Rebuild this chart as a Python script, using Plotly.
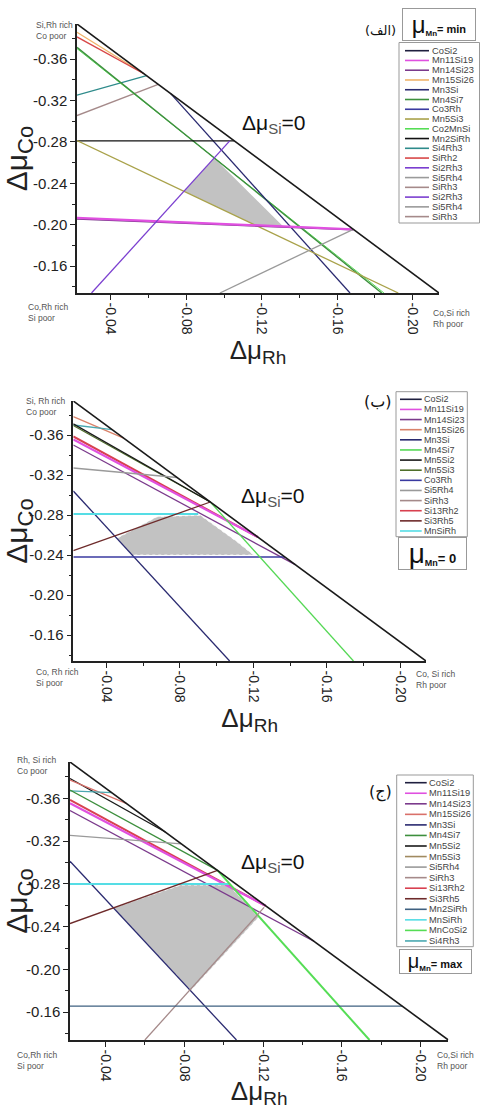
import plotly.graph_objects as go

W, H = 480, 1109
FONT = "Liberation Sans"

# ---------------------------------------------------------------- axes
X_RANGE = [-0.022, -0.214]
Y_RANGE = [-0.134, -0.394]
X_TICKS = [-0.04, -0.08, -0.12, -0.16, -0.20]
X_TICK_TEXT = ["-0.04", "-0.08", "-0.12", "-0.16", "-0.20"]
Y_TICKS = [-0.36, -0.32, -0.28, -0.24, -0.20, -0.16]
Y_TICK_TEXT = ["-0.36", "-0.32", "-0.28", "-0.24", "-0.20", "-0.16"]

# outer limit of the triangle (Δμ_Si = 0)
EDGE_X = [-0.022, -0.214]
EDGE_Y = [-0.394, -0.134]

# ---------------------------------------------------------------- (الف)  μMn = min
A_NAMES = ["Mn15Si26", "SiRh2", "Si4Rh3", "SiRh3", "Co2MnSi", "Mn4Si7", "Mn3Si",
           "Mn2SiRh", "Mn5Si3", "Mn14Si23", "Mn11Si19", "Si2Rh3", "Si5Rh4"]
A_X0 = [-0.022, -0.022, -0.022, -0.022, -0.022, -0.022, -0.0717,
        -0.022, -0.022, -0.022, -0.022, -0.0297, -0.0978]
A_Y0 = [-0.386, -0.3815, -0.3253, -0.3055, -0.3702, -0.3714, -0.3267,
        -0.281, -0.2814, -0.2055, -0.2067, -0.134, -0.134]
A_X1 = [-0.0575, -0.0575, -0.0589, -0.0651, -0.1848, -0.1836, -0.1668,
        -0.1054, -0.1924, -0.1685, -0.1685, -0.103, -0.1685]
A_Y1 = [-0.3459, -0.3459, -0.344, -0.3356, -0.134, -0.134, -0.134,
        -0.281, -0.134, -0.1950, -0.1955, -0.281, -0.1955]
A_REGION_X = [-0.0948, -0.0787, -0.1167, -0.1314]
A_REGION_Y = [-0.2645, -0.2323, -0.1995, -0.1983]
A_LEGEND = ["CoSi2", "Mn11Si19", "Mn14Si23", "Mn15Si26", "Mn3Si", "Mn4Si7", "Co3Rh",
            "Mn5Si3", "Co2MnSi", "Mn2SiRh", "Si4Rh3", "SiRh2", "Si2Rh3", "Si5Rh4",
            "SiRh3", "Si2Rh3", "Si5Rh4", "SiRh3"]

# ---------------------------------------------------------------- (ب)  μMn = 0
B_NAMES = ["Mn15Si26", "Si4Rh3", "Mn5Si3", "Mn5Si2", "Si13Rh2", "Mn11Si19", "Mn14Si23",
           "Si5Rh4", "Mn3Si", "Co3Rh", "MnSiRh", "Si3Rh5", "Mn4Si7"]
B_X0 = [-0.022, -0.022, -0.022, -0.022, -0.022, -0.022, -0.022,
        -0.022, -0.022, -0.022, -0.022, -0.022, -0.0966]
B_Y0 = [-0.3783, -0.370, -0.3695, -0.3712, -0.3585, -0.3555, -0.350,
        -0.327, -0.304, -0.238, -0.281, -0.2443, -0.293]
B_X1 = [-0.0494, -0.0431, -0.0966, -0.0966, -0.1225, -0.1225, -0.1428,
        -0.0785, -0.1071, -0.1372, -0.090, -0.0966, -0.1745]
B_Y1 = [-0.3569, -0.3654, -0.293, -0.293, -0.2579, -0.2579, -0.2304,
        -0.3175, -0.134, -0.238, -0.281, -0.293, -0.134]
B_REGION_X = [-0.0541, -0.0458, -0.0676, -0.0911, -0.1111, -0.1201]
B_REGION_Y = [-0.240, -0.2567, -0.2783, -0.2797, -0.2533, -0.240]
B_LEGEND = ["CoSi2", "Mn11Si19", "Mn14Si23", "Mn15Si26", "Mn3Si", "Mn4Si7", "Mn5Si2",
            "Mn5Si3", "Co3Rh", "Si5Rh4", "SiRh3", "Si13Rh2", "Si3Rh5", "MnSiRh"]

# ---------------------------------------------------------------- (ج)  μMn = max
C_NAMES = ["Mn5Si2", "Mn15Si26", "Si4Rh3", "Mn4Si7", "Si13Rh2", "Mn11Si19", "Mn14Si23",
           "Si5Rh4", "Mn3Si", "MnSiRh", "Si3Rh5", "MnCoSi2", "SiRh3", "Mn2SiRh"]
C_X0 = [-0.022, -0.022, -0.022, -0.022, -0.022, -0.022, -0.022,
        -0.022, -0.022, -0.022, -0.022, -0.0969, -0.060, -0.022]
C_Y0 = [-0.3786, -0.3771, -0.367, -0.3678, -0.3585, -0.3554, -0.3486,
        -0.3253, -0.3012, -0.280, -0.2429, -0.2926, -0.134, -0.1656]
C_X1 = [-0.0704, -0.0508, -0.0432, -0.0969, -0.1213, -0.1213, -0.146,
        -0.0785, -0.1065, -0.103, -0.0969, -0.174, -0.1205, -0.1907]
C_Y1 = [-0.3285, -0.355, -0.3653, -0.2926, -0.2595, -0.2595, -0.2261,
        -0.3175, -0.134, -0.280, -0.2926, -0.134, -0.258, -0.1656]
C_REGION_X = [-0.0442, -0.0782, -0.1026, -0.1116, -0.1177, -0.0833]
C_REGION_Y = [-0.2575, -0.2789, -0.2789, -0.2612, -0.2489, -0.1804]
C_LEGEND = ["CoSi2", "Mn11Si19", "Mn14Si23", "Mn15Si26", "Mn3Si", "Mn4Si7", "Mn5Si2",
            "Mn5Si3", "Si5Rh4", "SiRh3", "Si13Rh2", "Si3Rh5", "Mn2SiRh", "MnSiRh",
            "MnCoSi2", "Si4Rh3"]

# ---------------------------------------------------------------- styles
BASE_COLORS = {
    "CoSi2": "#1f1f3f", "Mn11Si19": "#e050e0", "Mn14Si23": "#7b3a8c",
    "Mn15Si26": "#f0b46a", "Mn3Si": "#2a2a70", "Mn4Si7": "#3d8f3d",
    "Co3Rh": "#3a3aa0", "Mn5Si3": "#a9a24a", "Co2MnSi": "#55dd55",
    "Mn2SiRh": "#111111", "Si4Rh3": "#2e8b8b", "SiRh2": "#d84848",
    "Si2Rh3": "#7b3fd0", "Si5Rh4": "#9a9a9a", "SiRh3": "#a58a8a",
    "Mn5Si2": "#1a1a1a", "Si13Rh2": "#d84050", "Si3Rh5": "#6e2b2b",
    "MnSiRh": "#55dde5", "MnCoSi2": "#55dd55",
}
PANEL_COLORS = {
    "A": {},
    "B": {"Mn4Si7": "#55d855", "Mn5Si3": "#4f6f2a", "Mn15Si26": "#d9826a",
          "Si4Rh3": "#4aa8b0"},
    "C": {"Mn2SiRh": "#3e6080", "Mn5Si3": "#a08a60", "Si4Rh3": "#4aa8b0",
          "Mn15Si26": "#d9706a"},
}
THICK = {"Mn11Si19": 2.2, "Si13Rh2": 2.0, "MnSiRh": 2.0, "MnCoSi2": 2.0}
WIDTH_OVERRIDE = {("A", "Co2MnSi"): 1.0, ("A", "Mn4Si7"): 1.4}


def color_of(panel, name):
    return PANEL_COLORS[panel].get(name, BASE_COLORS[name])


def span(text, size, bold=False, color=None, drop=0):
    """Styled run of text; `drop` lowers it below the baseline (subscript)."""
    style = "font-size:%gpx" % size
    if bold:
        style += ";font-weight:bold"
    if color:
        style += ";color:%s" % color
    if drop:
        style += ";baseline-shift:-%gpx" % drop
    return '<span style="%s">%s</span>' % (style, text)


PANELS = [
    dict(key="A", names=A_NAMES, x0=A_X0, y0=A_Y0, x1=A_X1, y1=A_Y1,
         rx=A_REGION_X, ry=A_REGION_Y, legend=A_LEGEND, region_edge=False,
         dom=(77, 439, 24, 293),
         box=(399, 42.5, 479.5, 223), item0=50.7, step=9.76, lx=(405, 429), tx=430.5,
         lfont=9.3,
         mu=(439, 24.5, 68, 2),
         mu_text=span("μ", 24) + span("Mn", 8, True, drop=3) + span("= min", 11, True),
         tag="(الف)", tag_size=13, tag_x=398, tag_y=31, si=(273, 124),
         corners=[("Si,Rh rich", "Co poor", 35, 25), ("Co,Rh rich", "Si poor", 27, 307),
                  ("Co,Si rich", "Rh poor", 432, 313)]),
    dict(key="B", names=B_NAMES, x0=B_X0, y0=B_Y0, x1=B_X1, y1=B_Y1,
         rx=B_REGION_X, ry=B_REGION_Y, legend=B_LEGEND, region_edge=True,
         dom=(73.3, 426, 401, 661),
         box=(396, 391.7, 467.3, 536.7), item0=399.3, step=10.13, lx=(400, 421.7), tx=422.5,
         lfont=9.0,
         mu=(432.5, 554, 67, 0),
         mu_text=span("μ", 28) + span("Mn", 9, True, drop=3) + span("= 0", 13, True),
         tag="(ب)", tag_size=16, tag_x=394, tag_y=402, si=(272, 497),
         corners=[("Si, Rh rich", "Co poor", 25, 401), ("Co, Rh rich", "Si poor", 35, 672),
                  ("Co, Si rich", "Rh poor", 415, 674)]),
    dict(key="C", names=C_NAMES, x0=C_X0, y0=C_Y0, x1=C_X1, y1=C_Y1,
         rx=C_REGION_X, ry=C_REGION_Y, legend=C_LEGEND, region_edge=True,
         dom=(70, 448.3, 762, 1040),
         box=(396.7, 775, 473.3, 946.7), item0=782.7, step=10.55, lx=(405, 426.7), tx=427.5,
         lfont=9.3,
         mu=(435.8, 961.7, 71, 0),
         mu_text=span("μ", 20) + span("Mn", 8, True, drop=3) + span("= max", 11, True),
         tag="(ج)", tag_size=16, tag_x=394, tag_y=792, si=(272, 863),
         corners=[("Rh, Si rich", "Co poor", 16, 760), ("Co,Rh rich", "Si poor", 16, 1055),
                  ("Co,Si rich", "Rh poor", 436, 1055)]),
]
CORNER_LINE_GAP = 11


def px(x):
    return x / W


def py(y):
    return 1 - y / H


fig = go.Figure()
shapes, annotations = [], []

for i, p in enumerate(PANELS, start=1):
    suffix = "" if i == 1 else str(i)
    xa, ya = "x" + suffix, "y" + suffix

    # stable region
    fig.add_trace(go.Scatter(
        x=p["rx"] + p["rx"][:1], y=p["ry"] + p["ry"][:1], xaxis=xa, yaxis=ya,
        mode="lines", fill="toself", fillcolor="#c2c2c2",
        line=dict(color="white", width=0.8, dash="dot") if p["region_edge"] else dict(width=0),
        hoverinfo="skip", showlegend=False))

    # phase boundaries
    for n, a0, b0, a1, b1 in zip(p["names"], p["x0"], p["y0"], p["x1"], p["y1"]):
        w = WIDTH_OVERRIDE.get((p["key"], n), THICK.get(n, 1.3))
        fig.add_trace(go.Scatter(
            x=[a0, a1], y=[b0, b1], xaxis=xa, yaxis=ya, mode="lines", name=n,
            line=dict(color=color_of(p["key"], n), width=w),
            showlegend=False))

    # Δμ_Si = 0 limit
    fig.add_trace(go.Scatter(
        x=EDGE_X, y=EDGE_Y, xaxis=xa, yaxis=ya, mode="lines", name="Δμ_Si=0",
        line=dict(color="#1a1a1a", width=1.6), showlegend=False))

    l, r, t, b = p["dom"]
    common = dict(showline=True, linecolor="#222", linewidth=1.5, showgrid=False,
                  zeroline=False, ticks="outside", ticklen=5, tickwidth=1.2,
                  tickcolor="#222", automargin=False, tickmode="array",
                  minor=dict(tickmode="linear", tick0=0, dtick=0.02, ticks="outside",
                             ticklen=3, tickwidth=1, tickcolor="#222"))
    fig.layout["xaxis" + suffix] = dict(
        common, domain=[px(l), px(r)], anchor=ya, range=X_RANGE,
        tickvals=X_TICKS, ticktext=X_TICK_TEXT, tickangle=90,
        tickfont=dict(family=FONT, size=14, color="#222"),
        title=dict(text="Δμ" + span("Rh", 19, drop=5), standoff=2,
                   font=dict(family=FONT, size=26, color="#222")))
    fig.layout["yaxis" + suffix] = dict(
        common, domain=[py(b), py(t)], anchor=xa, range=Y_RANGE,
        tickvals=Y_TICKS, ticktext=Y_TICK_TEXT,
        tickfont=dict(family=FONT, size=15, color="#222"),
        title=dict(text="Δμ" + span("Co", 22, drop=6), standoff=3,
                   font=dict(family=FONT, size=30, color="#222")))

    # legend block
    bx0, by0, bx1, by1 = p["box"]
    shapes.append(dict(type="rect", xref="paper", yref="paper", x0=px(bx0), x1=px(bx1),
                       y0=py(by1), y1=py(by0), line=dict(color="#999", width=1),
                       fillcolor="white", layer="above"))
    for k, n in enumerate(p["legend"]):
        yy = p["item0"] + k * p["step"]
        shapes.append(dict(type="line", xref="paper", yref="paper",
                           x0=px(p["lx"][0]), x1=px(p["lx"][1]), y0=py(yy), y1=py(yy),
                           line=dict(color=color_of(p["key"], n), width=1.6),
                           layer="above"))
        annotations.append(dict(text=n, xref="paper", yref="paper", x=px(p["tx"]),
                                y=py(yy), xanchor="left", yanchor="middle",
                                showarrow=False, borderpad=0,
                                font=dict(family=FONT, size=p["lfont"], color="#444")))

    # μMn box (width fixed, height from the text plus padding)
    mx, my, mw, mpad = p["mu"]
    annotations.append(dict(text=p["mu_text"], xref="paper", yref="paper", x=px(mx),
                            y=py(my), xanchor="center", yanchor="middle", showarrow=False,
                            width=mw, bordercolor="#999", borderwidth=1,
                            borderpad=mpad, bgcolor="white",
                            font=dict(family=FONT, size=11, color="#111")))

    # panel tag
    annotations.append(dict(text=p["tag"], xref="paper", yref="paper", x=px(p["tag_x"]),
                            y=py(p["tag_y"]), xanchor="right", yanchor="middle",
                            showarrow=False,
                            font=dict(family="DejaVu Sans", size=p["tag_size"], color="#111")))

    # Δμ_Si = 0 label
    sx, sy = p["si"]
    annotations.append(dict(text="Δμ" + span("Si", 15, color="#555", drop=4) + span("=0", 21),
                            xref="paper", yref="paper", x=px(sx), y=py(sy),
                            xanchor="center", yanchor="middle", showarrow=False,
                            font=dict(family=FONT, size=21, color="#111")))

    # corner notes
    for line1, line2, cx, cy in p["corners"]:
        for j, txt in enumerate((line1, line2)):
            annotations.append(dict(text=txt, xref="paper", yref="paper", x=px(cx),
                                    y=py(cy + j * CORNER_LINE_GAP),
                                    xanchor="left", yanchor="middle",
                                    showarrow=False, borderpad=0,
                                    font=dict(family=FONT, size=8.5, color="#555")))

fig.update_layout(
    width=W, height=H, margin=dict(l=0, r=0, t=0, b=0),
    template="none", paper_bgcolor="white", plot_bgcolor="white",
    showlegend=False, font=dict(family=FONT, color="#222"),
    shapes=shapes, annotations=annotations,
)

fig.write_html("out.html")
